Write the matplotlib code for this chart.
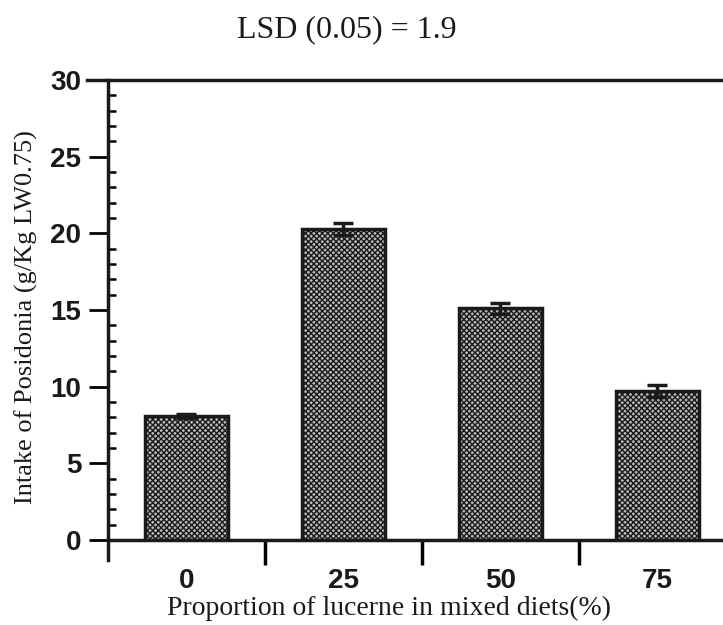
import matplotlib
matplotlib.use("Agg")
import matplotlib.pyplot as plt
import numpy as np

categories = ["0", "25", "50", "75"]
intake = [8.1, 20.3, 15.1, 9.7]
errors = [0.15, 0.4, 0.35, 0.4]

plt.rcParams['hatch.color'] = '#3a3a3a'
plt.rcParams['hatch.linewidth'] = 1.0

fig = plt.figure(figsize=(7.23, 6.25), dpi=100)
ax = fig.add_axes([0.149, 0.136, 0.869, 0.736])

x = np.arange(len(categories))
ax.bar(x, intake, width=0.53, color='#b8b8b8', edgecolor='#1a1a1a',
       linewidth=2.5, hatch='xxxxxx', zorder=2)
ax.errorbar(x, intake, yerr=errors, fmt='none', ecolor='#1a1a1a',
            elinewidth=2.5, capsize=7, capthick=2.5, zorder=3)

ax.set_xlim(-0.5, 3.5)
ax.set_ylim(0, 30)

ax.spines['right'].set_visible(False)
for s in ['left', 'bottom', 'top']:
    ax.spines[s].set_linewidth(2.5)
    ax.spines[s].set_color('#1a1a1a')
ax.spines['left'].set_bounds(-1.3, 30)
ax.spines['left'].set_clip_on(False)
ax.spines['top'].set_bounds(-0.63, 3.5)

ax.set_yticks(np.arange(0, 31, 5))
ax.set_yticks(np.arange(0, 31, 1), minor=True)
ax.tick_params(axis='y', which='major', direction='out', length=14, width=2,
               labelsize=20, pad=5)
ax.tick_params(axis='y', which='minor', direction='in', length=6, width=1.8)

ax.set_xticks(x)
ax.set_xticklabels(categories)
ax.set_xticks([0.5, 1.5, 2.5], minor=True)
ax.tick_params(axis='x', which='major', length=0, labelsize=20, pad=20)
ax.tick_params(axis='x', which='minor', direction='out', length=18, width=2.5)
ax.tick_params(top=False, right=False, which='both')

for lab in ax.get_xticklabels() + ax.get_yticklabels():
    lab.set_fontfamily('Liberation Sans')
    lab.set_fontweight('bold')
    lab.set_color('#1a1a1a')

ax.set_xlabel("Proportion of lucerne in mixed diets(%)", fontfamily='Liberation Serif',
              fontsize=20, color='#1a1a1a', va='center')
ax.xaxis.set_label_coords(0.447, -0.148)
ax.set_ylabel("Intake of Posidonia (g/Kg LW0.75)", fontfamily='Liberation Serif',
              fontsize=19, color='#1a1a1a', va='center')
ax.yaxis.set_label_coords(-0.13, 0.485)

fig.text(0.48, 0.952, "LSD (0.05) = 1.9", fontfamily='Liberation Serif', fontsize=23,
         ha='center', va='center', color='#1a1a1a')

fig.savefig("out.png", dpi=100)
